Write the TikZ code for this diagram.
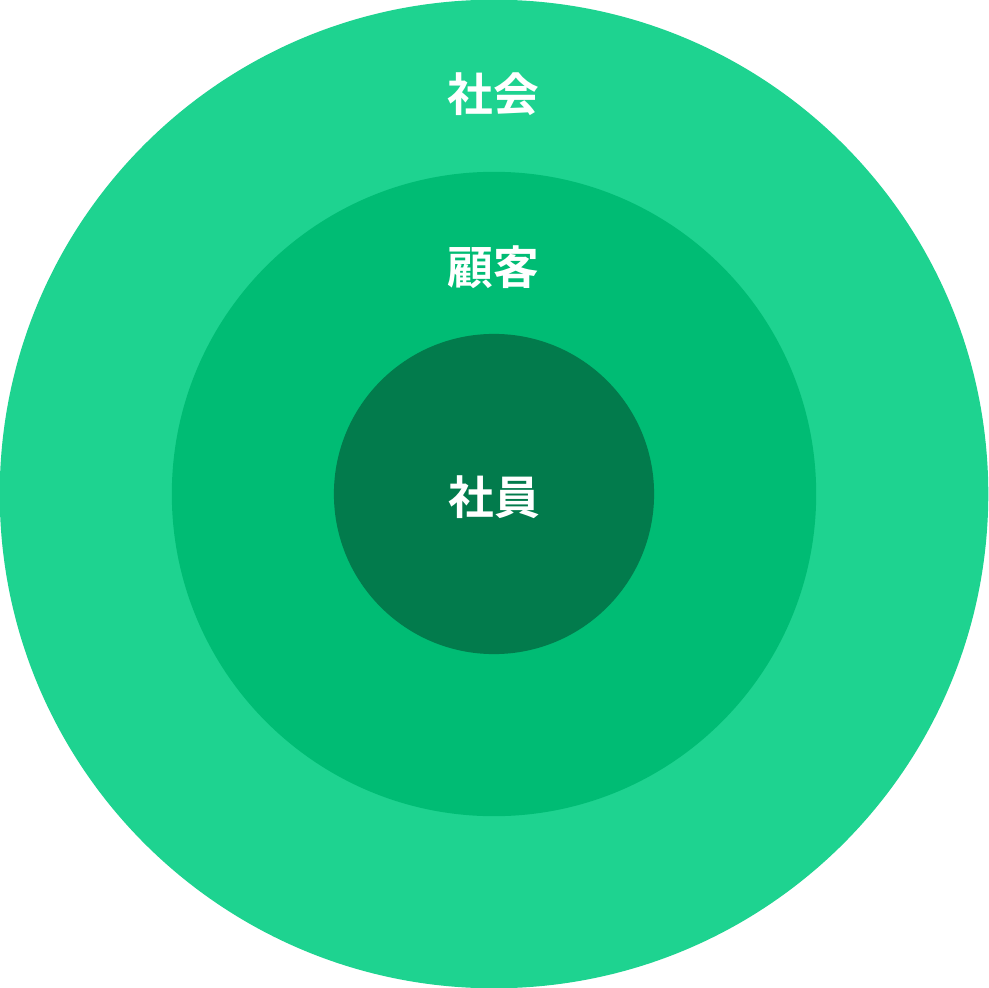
\documentclass[tikz,border=0pt]{standalone}
\usepackage{fontspec}
\newfontfamily\cjk{Noto Sans CJK JP}[BoldFont={Noto Sans CJK JP Bold}]
\usepackage{tikz}
\usetikzlibrary{positioning}

\definecolor{ringout}{HTML}{1ED390}
\definecolor{ringmid}{HTML}{00BC74}
\definecolor{ringin}{HTML}{027B4C}

\begin{document}
\begin{tikzpicture}
		[x=0.01cm, y=-0.01cm,
		ring/.style = {circle, inner sep=0pt, outer sep=0pt},
		lbl/.style = {text=white, font=\cjk\bfseries\fontsize{13}{13}\selectfont, inner sep=0pt}]
		
		\useasboundingbox (0,0) rectangle (988,988);
		\node[ring, fill=ringout, minimum size=9.88cm] (society) at (494,494) {};
		\node[ring, fill=ringmid, minimum size=6.44cm] (customer) at (494,494) {};
		\node[ring, fill=ringin, minimum size=3.2cm] (staff) at (494,494) {};
		
		\node[lbl] (societytext) at (493,94) {社会};
		\node[lbl] (customertext) at (493,267) {顧客};
		\node[lbl] (stafftext) at (494,497) {社員};
		
	\end{tikzpicture}
\end{document}
